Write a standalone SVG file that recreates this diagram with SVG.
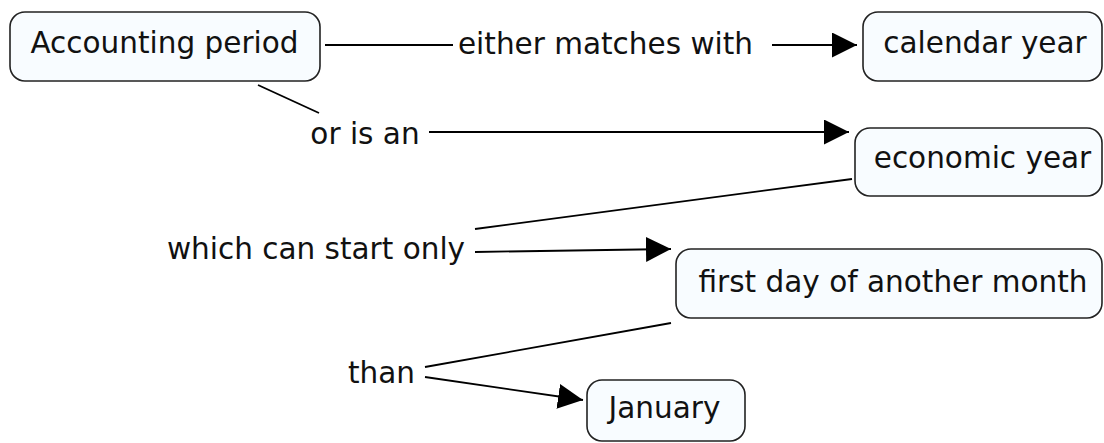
<svg xmlns="http://www.w3.org/2000/svg" width="1104" height="443" viewBox="0 0 1104 443">
<style>
.node rect{fill:#f8fcff;stroke:#222;stroke-width:1.6}
text{font-family:"DejaVu Sans","Verdana",sans-serif;font-size:29.5px;fill:#111;text-anchor:middle}
.conn line{stroke:#000;stroke-width:1.8}
</style>
<defs>
<marker id="arr" markerUnits="userSpaceOnUse" markerWidth="26" markerHeight="26" refX="25" refY="12.5" orient="auto" viewBox="0 0 26 26">
<path d="M0,0 L25,12.5 L0,25 z" fill="#000"/>
</marker>
</defs>
<rect width="1104" height="443" fill="#fff"/>
<g id="connectors" class="conn">
<line x1="325" y1="45" x2="453" y2="45"/>
<line x1="772" y1="45" x2="857" y2="45" marker-end="url(#arr)"/>
<line x1="258" y1="85" x2="319" y2="113"/>
<line x1="429" y1="132" x2="849" y2="132" marker-end="url(#arr)"/>
<line x1="852" y1="179" x2="475" y2="229"/>
<line x1="475" y1="252" x2="671" y2="249" marker-end="url(#arr)"/>
<line x1="671" y1="323" x2="425" y2="367"/>
<line x1="425" y1="377" x2="583" y2="400" marker-end="url(#arr)"/>
</g>
<g id="accounting-period" class="node">
<rect x="10" y="12" width="310" height="69" rx="15"/>
<text x="164.5" y="53">Accounting period</text>
</g>
<g id="calendar-year" class="node">
<rect x="863" y="12" width="239" height="69" rx="15"/>
<text x="985" y="53">calendar year</text>
</g>
<g id="economic-year" class="node">
<rect x="855" y="128" width="247" height="68" rx="15"/>
<text x="982.5" y="168">economic year</text>
</g>
<g id="first-day" class="node">
<rect x="676" y="249" width="426" height="69" rx="15"/>
<text x="893" y="292">first day of another month</text>
</g>
<g id="january" class="node">
<rect x="587" y="380" width="158" height="61" rx="15"/>
<text x="664.5" y="418">January</text>
</g>
<g id="labels">
<text x="605.5" y="54">either matches with</text>
<text x="365" y="144">or is an</text>
<text x="316" y="259">which can start only</text>
<text x="381.5" y="383">than</text>
</g>
</svg>
